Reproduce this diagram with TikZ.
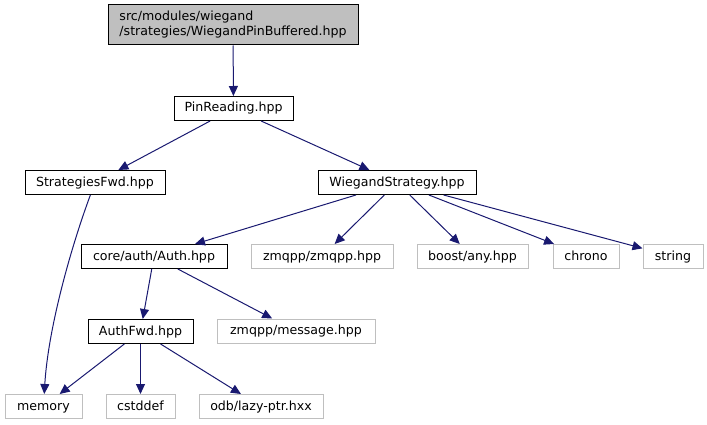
\documentclass[tikz,border=0pt]{standalone}
\usepackage{fontspec}
\setmainfont{DejaVu Sans}
\usetikzlibrary{arrows.meta}
\definecolor{edgeblue}{RGB}{25,25,112}
\definecolor{extgray}{RGB}{191,191,191}
\begin{document}
\begin{tikzpicture}[x=1pt,y=-1pt,
  box/.style={draw=black, line width=1pt, minimum height=24pt, inner sep=0pt, text height=10pt, text depth=3pt, font=\fontsize{12.6}{15}\selectfont, anchor=center},
  ext/.style={box, draw=extgray},
  edge/.style={draw=edgeblue, line width=1pt, -{Triangle[length=10pt,width=9pt]}}]
\useasboundingbox (0,0) rectangle (707,425);
\node[box, fill=extgray, minimum width=250pt, minimum height=40pt, text height=, text depth=, align=left] (top) at (233,25) {src/modules/wiegand\\/strategies/WiegandPinBuffered.hpp};
\node[box, minimum width=119pt] (pin) at (233.5,108.5) {PinReading.hpp};
\node[box, minimum width=140pt] (sf) at (95,182.5) {StrategiesFwd.hpp};
\node[box, minimum width=158pt] (ws) at (397,182.5) {WiegandStrategy.hpp};
\node[box, minimum width=146pt] (auth) at (154,256.5) {core/auth/Auth.hpp};
\node[ext, minimum width=142pt] (zmq) at (322,256.5) {zmqpp/zmqpp.hpp};
\node[ext, minimum width=111pt] (boost) at (472.5,256.5) {boost/any.hpp};
\node[ext, minimum width=66pt] (chrono) at (586,256.5) {chrono};
\node[ext, minimum width=60pt] (string) at (673,256.5) {string};
\node[box, minimum width=105pt] (afwd) at (140.5,331.5) {AuthFwd.hpp};
\node[ext, minimum width=158pt] (msg) at (296,331) {zmqpp/message.hpp};
\node[ext, minimum width=77pt] (mem) at (43.5,406.5) {memory};
\node[ext, minimum width=69pt] (cst) at (140.5,406.5) {cstddef};
\node[ext, minimum width=124pt] (odb) at (261,406.5) {odb/lazy-ptr.hxx};
\draw[edge] (top) -- (pin);
\draw[edge] (pin) -- (sf);
\draw[edge] (pin) -- (ws);
\draw[edge] (sf) .. controls (70,250) and (48,330) .. (mem);
\draw[edge] (ws) -- (auth);
\draw[edge] (ws) -- (zmq);
\draw[edge] (ws) -- (boost);
\draw[edge] (ws) -- (chrono);
\draw[edge] (ws) -- (string);
\draw[edge] (auth) -- (afwd);
\draw[edge] (auth) -- (msg);
\draw[edge] (afwd) -- (mem);
\draw[edge] (afwd) -- (cst);
\draw[edge] (afwd) -- (odb);
\end{tikzpicture}
\end{document}
